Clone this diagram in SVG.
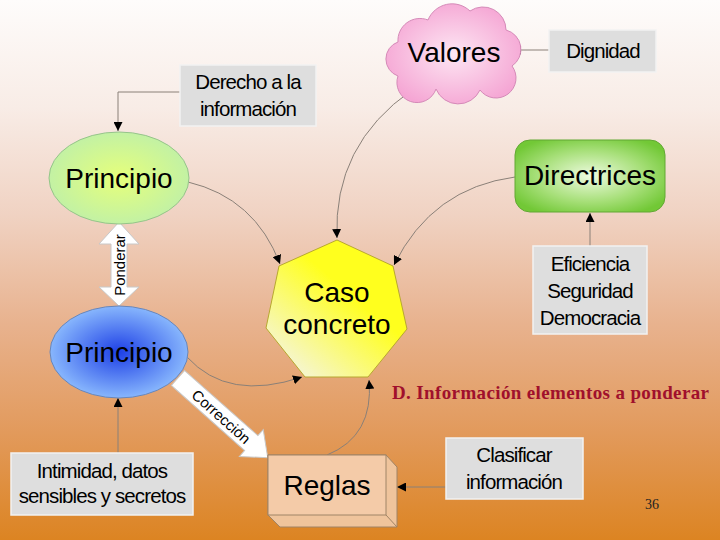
<svg xmlns="http://www.w3.org/2000/svg" width="720" height="540" viewBox="0 0 720 540">
<defs>
<linearGradient id="bg" x1="0" y1="0" x2="0" y2="1">
<stop offset="0" stop-color="#fefcfb"/>
<stop offset="0.2" stop-color="#f8ece6"/>
<stop offset="0.4" stop-color="#f0d2c2"/>
<stop offset="0.6" stop-color="#e8b28e"/>
<stop offset="0.8" stop-color="#e29a5c"/>
<stop offset="1" stop-color="#dc8422"/>
</linearGradient>
<radialGradient id="gPink" cx="0.5" cy="0.5" r="0.55">
<stop offset="0" stop-color="#fde6f3"/>
<stop offset="1" stop-color="#f5a6d4"/>
</radialGradient>
<radialGradient id="gGreen" cx="0.5" cy="0.5" r="0.55">
<stop offset="0" stop-color="#e6ff7a"/>
<stop offset="1" stop-color="#bff0a8"/>
</radialGradient>
<radialGradient id="gBlue" cx="0.5" cy="0.5" r="0.55">
<stop offset="0" stop-color="#1e40e6"/>
<stop offset="1" stop-color="#92c2ff"/>
</radialGradient>
<radialGradient id="gDir" cx="0.5" cy="0.5" r="0.6">
<stop offset="0" stop-color="#eefbe0"/>
<stop offset="0.6" stop-color="#a6df78"/>
<stop offset="1" stop-color="#72c836"/>
</radialGradient>
<linearGradient id="gYel" x1="0.85" y1="0.15" x2="0.2" y2="0.9">
<stop offset="0.35" stop-color="#ffff1e"/>
<stop offset="1" stop-color="#f6f6c8"/>
</linearGradient>
<marker id="ah" viewBox="0 0 10 10" refX="10" refY="5" markerWidth="9" markerHeight="9" markerUnits="userSpaceOnUse" orient="auto">
<path d="M0,0 L10,5 L0,10 Z" fill="#000"/>
</marker>
<style>
.box{fill:#dedede;stroke:#f2f2f2;stroke-width:1.5}
.t{font-family:"Liberation Sans",Arial,sans-serif;fill:#000;text-anchor:middle}
.big{font-size:28px}
.sm{font-size:20.5px;letter-spacing:-0.9px}
.con{fill:none;stroke:#8a8078;stroke-width:1;marker-end:url(#ah)}
.blk{fill:#fff;stroke:#c8c8c8;stroke-width:1}
</style>
</defs>
<rect x="0" y="0" width="720" height="540" fill="url(#bg)"/>

<g id="connectors">
<path class="con" d="M549,50 L512,50"/>
<path class="con" d="M180,92 L118,92 L118,131"/>
<path class="con" d="M188,182 Q255,198 280,264"/>
<path class="con" d="M412,90 Q333,145 337,238"/>
<path class="con" d="M515,177 Q432,188 394,265"/>
<path class="con" d="M187,357 Q228,402 302,377"/>
<path class="con" d="M327,455 Q374,436 369,380"/>
<path class="con" d="M590,246 L590,213"/>
<path class="con" d="M118,453 L118,398"/>
<path class="con" d="M446,487 L397,487"/>
</g>

<g id="correccion">
<g transform="translate(178,378) rotate(41.6)">
<polygon class="blk" points="0,-10 98,-10 98,-18 120,0 98,18 98,10 0,10"/>
<text class="t" x="58" y="0" font-size="15" dominant-baseline="central">Corrección</text>
</g>
</g>

<g id="ponderar">
<polygon class="blk" points="119,222 139,244 127,244 127,287 139,287 119,306 99,287 111,287 111,244 99,244"/>
<text class="t" x="0" y="0" font-size="15" dominant-baseline="central" transform="translate(119,265) rotate(-90)">Ponderar</text>
</g>

<g id="valores">
<path d="M398,42 A22,22 0 0 1 428,20 A26,26 0 0 1 470,11 A23,23 0 0 1 506,30 A20,20 0 0 1 512,66 A20,20 0 0 1 480,90 A24,24 0 0 1 436,89 A20,20 0 0 1 398,76 A18,18 0 0 1 398,42 Z" fill="url(#gPink)" stroke="#d58ab8" stroke-width="1"/>
<text class="t big" x="454" y="62">Valores</text>
</g>

<g id="dignidad">
<rect class="box" x="549" y="30" width="107" height="42"/>
<text class="t sm" x="603" y="58">Dignidad</text>
</g>

<g id="derecho">
<rect class="box" x="180" y="65" width="136" height="61"/>
<text class="t sm" x="248" y="89">Derecho a la</text>
<text class="t sm" x="248" y="116">información</text>
</g>

<g id="principio1">
<ellipse cx="119" cy="178" rx="70" ry="46" fill="url(#gGreen)" stroke="#96c48a" stroke-width="1"/>
<text class="t big" x="119" y="188">Principio</text>
</g>

<g id="principio2">
<ellipse cx="119" cy="352" rx="69" ry="46" fill="url(#gBlue)" stroke="#6a86b8" stroke-width="1"/>
<text class="t big" x="119" y="362">Principio</text>
</g>

<g id="intimidad">
<rect class="box" x="11" y="453" width="182" height="62"/>
<text class="t sm" x="102" y="478">Intimidad, datos</text>
<text class="t sm" x="102" y="503">sensibles y secretos</text>
</g>

<g id="caso">
<polygon points="337,240 393,266 407,329 368,377 305,377 266,328 279,266" fill="url(#gYel)" stroke="#b8a830" stroke-width="1"/>
<text class="t big" x="337" y="302">Caso</text>
<text class="t big" x="337" y="334">concreto</text>
</g>

<g id="directrices">
<rect x="515" y="140" width="150" height="72" rx="15" ry="15" fill="url(#gDir)" stroke="#62a834" stroke-width="1"/>
<text class="t big" x="590" y="185">Directrices</text>
</g>

<g id="eficiencia">
<rect class="box" x="533" y="246" width="114" height="88"/>
<text class="t sm" x="590" y="271">Eficiencia</text>
<text class="t sm" x="590" y="298">Seguridad</text>
<text class="t sm" x="590" y="325">Democracia</text>
</g>

<g id="reglas">
<polygon points="268,455 386,455 397,467 397,527 280,527 268,515" fill="#efc49c" stroke="#a08466" stroke-width="1"/>
<rect x="268" y="455" width="118" height="60" fill="#f4cba8" stroke="#a08466" stroke-width="1"/>
<line x1="386" y1="515" x2="397" y2="527" stroke="#a08466" stroke-width="1"/>
<text class="t big" x="327" y="495">Reglas</text>
</g>

<g id="clasificar">
<rect class="box" x="446" y="438" width="137" height="61"/>
<text class="t sm" x="514" y="462">Clasificar</text>
<text class="t sm" x="514" y="489">información</text>
</g>

<text x="392" y="399" font-family="'Liberation Serif','Times New Roman',serif" font-size="19" font-weight="bold" fill="#a0102c" textLength="317" lengthAdjust="spacing">D. Información elementos a ponderar</text>
<text x="652" y="509" font-family="'Liberation Serif','Times New Roman',serif" font-size="14" fill="#222" text-anchor="middle">36</text>
</svg>
